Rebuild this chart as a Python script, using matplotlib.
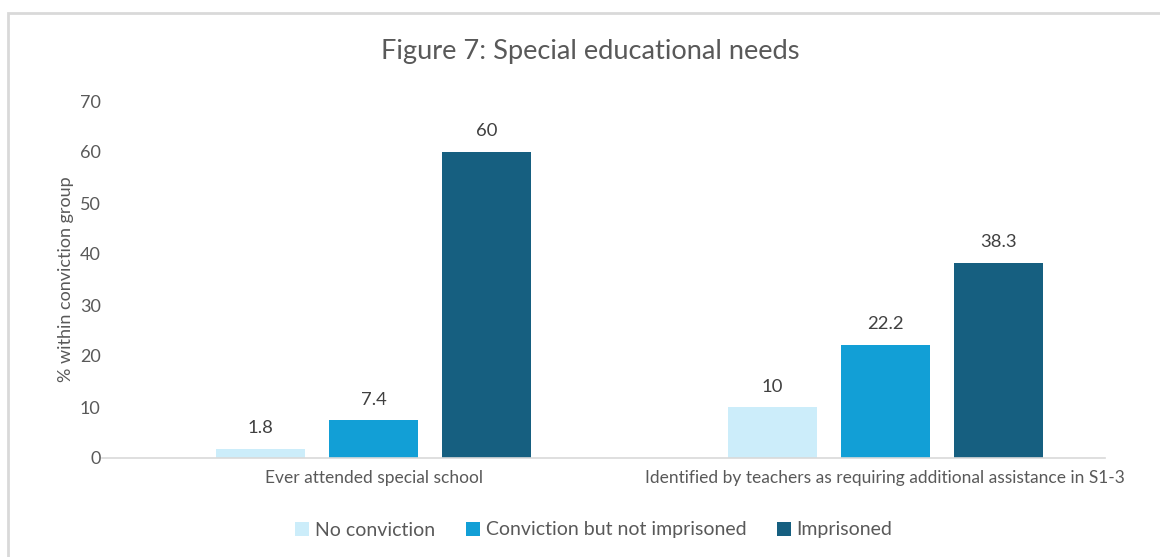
import numpy as np
import matplotlib.pyplot as plt
from matplotlib.patches import Rectangle

categories = ['Ever attended special school',
              'Identified by teachers as requiring additional assistance in S1-3']
series_names = ['No conviction', 'Conviction but not imprisoned', 'Imprisoned']
no_conviction = [1.8, 10]
conviction = [7.4, 22.2]
imprisoned = [60, 38.3]
colors = ['#CCEDFA', '#129FD6', '#165F80']

plt.rcParams['font.family'] = ['Lato', 'DejaVu Sans']
W, H = 1160, 557
fig = plt.figure(figsize=(W / 100, H / 100), dpi=100)

# light grey frame round the chart area
fig.patches.append(Rectangle((8 / W, -0.1), 1.2, 1 - 13 / H + 0.1, transform=fig.transFigure,
                             fill=False, edgecolor='#D9D9D9', linewidth=2))

# axes placed in pixels: x 102..1105, y 101(=70)..458(=0)
left, right, top, bottom = 102, 1105, 101, 458
ax = fig.add_axes([left / W, 1 - bottom / H, (right - left) / W, (bottom - top) / H])

x = np.arange(len(categories))
width = 0.174
offset = 0.221
text_col = '#595959'
for i, (vals, name) in enumerate(zip([no_conviction, conviction, imprisoned], series_names)):
    bars = ax.bar(x + (i - 1) * offset, vals, width, color=colors[i], label=name)
    for b, v in zip(bars, vals):
        ax.annotate(f'{v:g}', (b.get_x() + b.get_width() / 2, v), xytext=(0, 9),
                    textcoords='offset points', ha='center', va='bottom',
                    fontsize=13.3, color='#404040')

ax.set_ylim(0, 70)
ax.set_xlim(-0.531, 1.430)
ax.set_yticks(range(0, 71, 10))
ax.set_xticks(x)
ax.set_xticklabels(categories, fontsize=12.5, color=text_col)
ax.tick_params(axis='y', labelsize=13, labelcolor=text_col, length=0, pad=1)
ax.tick_params(axis='x', length=0, pad=9)
for s in ['top', 'right', 'left']:
    ax.spines[s].set_visible(False)
ax.spines['bottom'].set_color('#D9D9D9')
ax.spines['bottom'].set_linewidth(1.2)
ax.set_ylabel('% within conviction group', fontsize=13, color=text_col, labelpad=4)

fig.text(590 / W, 1 - 52 / H, 'Figure 7: Special educational needs', ha='center', va='center',
         fontsize=19.6, color=text_col)

fig.legend(loc='center', bbox_to_anchor=(594 / W, 1 - 530 / H), ncol=3, frameon=False,
           fontsize=14, handlelength=0.7, handleheight=0.7, handletextpad=0.3,
           columnspacing=1.6, labelcolor=text_col)

fig.savefig('out.png', dpi=100)
